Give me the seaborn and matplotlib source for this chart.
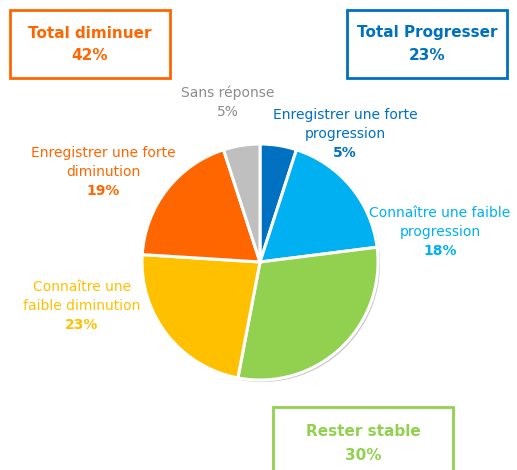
import matplotlib
matplotlib.use("Agg")
import matplotlib.pyplot as plt
import matplotlib.patches as mpatches
import seaborn as sns

sns.set_theme(style="white")
plt.rcParams['font.family'] = ['DejaVu Sans']

categories = ["Enregistrer une forte\nprogression", "Connaître une faible\nprogression",
              "Rester stable", "Connaître une\nfaible diminution",
              "Enregistrer une forte\ndiminution", "Sans réponse"]
values = [5, 18, 30, 23, 19, 5]
colors = ["#0070C0", "#00B0F0", "#92D050", "#FFC000", "#FF6600", "#BFBFBF"]
text_colors = ["#0070C0", "#00B0F0", "#92D050", "#FFC000", "#FF6600", "#8C8C8C"]

totals_labels = ["Total diminuer", "Total Progresser", "Rester stable"]
totals_values = [42, 23, 30]
totals_colors = ["#FF6600", "#0070C0", "#92D050"]

W, H = 517, 470
fig = plt.figure(figsize=(W / 100, H / 100), dpi=100)
ax = fig.add_axes([0, 0, 1, 1])

cx, cy, r = 260, 262, 118
explode = [0.015, 0.015, 0.03, 0.015, 0.015, 0.015]
# shadow pie
ax.pie(values, startangle=90, counterclock=False, explode=explode,
       colors=["#C8C8C8"] * len(values), center=(cx + 2, H - cy - 2), radius=r,
       wedgeprops=dict(edgecolor="none"), frame=False)
ax.pie(values, startangle=90, counterclock=False, explode=explode,
       colors=colors, center=(cx, H - cy), radius=r,
       wedgeprops=dict(edgecolor="white", linewidth=2.2), frame=False)
ax.set_xlim(0, W)
ax.set_ylim(0, H)
ax.set_aspect("equal")
ax.axis("off")

fs = 10
lh = 19
# label positions (pixel centres of first line)
label_pos = [(345, 115), (440, 213), None, (82, 287), (103, 153), (228, 93)]
for cat, val, tc, pos in zip(categories, values, text_colors, label_pos):
    if pos is None:
        continue
    x, y = pos
    lines = cat.split("\n")
    for i, line in enumerate(lines):
        ax.text(x, H - (y + i * lh), line, color=tc, fontsize=fs, ha="center", va="center")
    bold = "normal" if cat == "Sans réponse" else "bold"
    ax.text(x, H - (y + len(lines) * lh), f"{val}%", color=tc, fontsize=fs,
            fontweight=bold, ha="center", va="center")

# total boxes
boxes = [(10, 10, 160, 68), (347, 10, 160, 68), (273, 407, 180, 80)]
for (bx, by, bw, bh), lab, v, c in zip(boxes, totals_labels, totals_values, totals_colors):
    ax.add_patch(mpatches.Rectangle((bx, H - by - bh), bw, bh, fill=False,
                                    edgecolor=c, linewidth=2, clip_on=False))
    tx = bx + bw / 2
    ty = by + 23 if by < 100 else by + 25
    ax.text(tx, H - ty, lab, color=c, fontsize=11, fontweight="bold", ha="center", va="center")
    ax.text(tx, H - (ty + 23), f"{v}%", color=c, fontsize=11, fontweight="bold",
            ha="center", va="center")

fig.savefig("out.png", dpi=100, facecolor="white")
